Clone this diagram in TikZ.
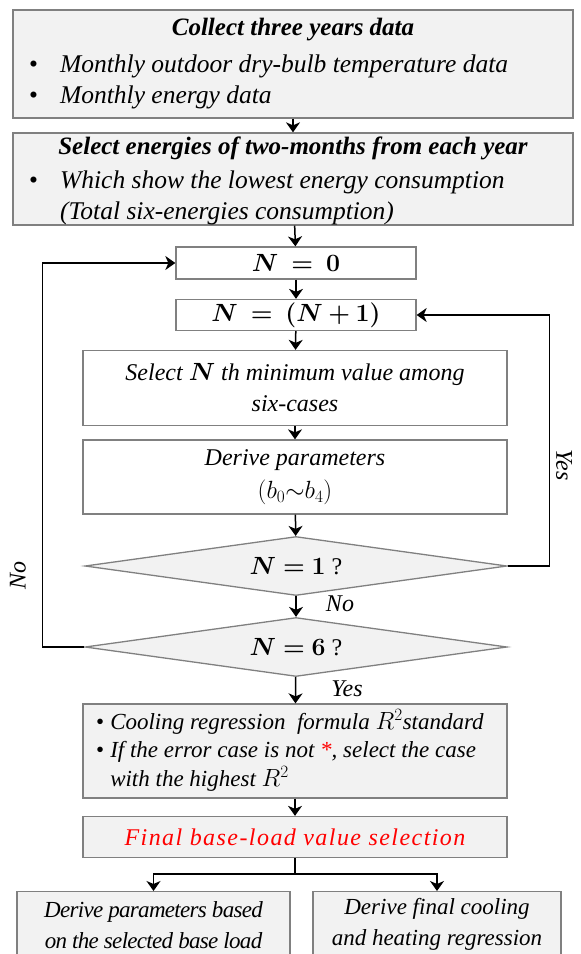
\documentclass[tikz,border=0pt]{standalone}
\usepackage{fontspec}
\setmainfont{Liberation Serif}
\usepackage{bm}
\usetikzlibrary{arrows.meta,shapes.geometric}
\definecolor{boxgray}{HTML}{F2F2F2}
\definecolor{edgegray}{HTML}{808080}
\tikzset{>={Stealth[length=10pt,width=14pt,inset=3pt]}}
\tikzset{
  greybox/.style={draw=edgegray, line width=1.3pt, fill=boxgray, inner sep=0pt},
  whitebox/.style={draw=edgegray, line width=1.3pt, fill=white, inner sep=0pt},
  decision/.style={diamond, aspect=7, draw=edgegray, line width=1.3pt, fill=boxgray,
    inner sep=0pt, minimum width=422pt, minimum height=59pt,
    font=\fontsize{24}{31}\selectfont},
  flow/.style={line width=1.5pt, ->},
  txt/.style={font=\fontsize{24}{31}\selectfont\itshape, inner sep=0pt, align=center},
  bigtxt/.style={font=\fontsize{25.5}{31}\selectfont\itshape, inner sep=0pt}
}

\begin{document}
\begin{tikzpicture}[x=1pt,y=-1pt]
\useasboundingbox (0,0) rectangle (581,954);
% boxes
\node[greybox, minimum width=560pt, minimum height=108pt] (collect) at (293,64) {};
\node[greybox, minimum width=560pt, minimum height=92pt] (choose) at (293,179) {};
\node[whitebox, minimum width=240pt, minimum height=32pt, txt] (nzero) at (296,263)
  {$\bm{N}\ \bm{=}\ \bm{0}$};
\node[whitebox, minimum width=240pt, minimum height=31pt, txt] (nplus) at (296,315)
  {$\bm{N}\ \bm{=}\ \bm{(N+1)}$};
\node[whitebox, minimum width=424pt, minimum height=75pt, txt] (select) at (295,388)
  {Select $\bm{N}$ th minimum value among\\six-cases};
\node[whitebox, minimum width=424pt, minimum height=74pt, txt] (derive) at (295,477)
  {Derive parameters\\[2pt]$(b_0{\sim}b_4)$};
\node[decision] (done) at (296,566) {$\bm{N=1}$ ?};
\node[decision] (dsix) at (296,647) {$\bm{N=6}$ ?};
\node[greybox, minimum width=424pt, minimum height=94pt] (cooling) at (295,751) {};
\node[greybox, minimum width=424pt, minimum height=41pt, txt, text=red] (final) at (295,837)
  {\addfontfeature{LetterSpace=6}Final base-load value selection};
\node[greybox, minimum width=273pt, minimum height=66pt, txt, anchor=north,
  font=\fontsize{23}{31}\selectfont\itshape\addfontfeature{LetterSpace=-3}] (outl) at (153.5,891)
  {Derive parameters based\\on the selected base load};
\node[greybox, minimum width=248pt, minimum height=66pt, txt, anchor=north,
  font=\fontsize{23}{31}\selectfont\itshape] (outr) at (437,891)
  {Derive final cooling\\and heating regression};
% texts in the grey boxes
\node[bigtxt, font=\fontsize{25}{31}\selectfont\bfseries\itshape] (tcollect) at (293,30)
  {Collect three years data};
\node[bigtxt, anchor=west, align=left] (lcollect) at (29,82)
  {\begin{tabular}{@{}l@{\hspace{22pt}}l@{}}\upshape• & Monthly outdoor dry-bulb temperature data\\
   \upshape• & Monthly energy data\end{tabular}};
\node[bigtxt, font=\fontsize{25}{31}\selectfont\bfseries\itshape] (tchoose) at (293,148)
  {Select energies of two-months from each year};
\node[bigtxt, anchor=west, align=left] (lchoose) at (29,198)
  {\begin{tabular}{@{}l@{\hspace{22pt}}l@{}}\upshape• & Which show the lowest energy consumption\\
   & (Total six-energies consumption)\end{tabular}};
\node[txt, anchor=west, align=left, font=\fontsize{23}{28}\selectfont\itshape] (lcooling) at (96,752)
  {\begin{tabular}{@{}l@{\hspace{6pt}}l@{}}\upshape• & Cooling regression\ \ formula $R^2$standard\\
   \upshape• & If the error case is not {\color{red}*}, select the case\\
   & with the highest $R^2$\end{tabular}};
% connectors
\draw[flow] (collect) -- (choose);
\draw[flow] (choose) -- (nzero);
\draw[flow] (nzero) -- (nplus);
\draw[flow] (nplus) -- (select);
\draw[flow] (select) -- (derive);
\draw[flow] (derive) -- (done);
\draw[flow] (done) -- (dsix);
\draw[flow] (dsix) -- (cooling);
\draw[flow] (cooling) -- (final);
\draw[flow] (done.east) -- ++(42,0) |- (nplus.east);
\draw[flow] (dsix.west) -- ++(-42,0) |- (nzero.west);
\draw[line width=1.5pt] (final.south) -- ++(0,16) coordinate (split);
\draw[flow] (split) -| (outl.north);
\draw[flow] (split) -| (outr.north);
% labels
\node[txt] (lno) at (340,604) {No};
\node[txt] (lyes) at (347,689) {Yes};
\node[txt, rotate=-90] (lyesr) at (564,465) {Yes};
\node[txt, rotate=90] (lnol) at (18,575) {No};
\end{tikzpicture}
\end{document}
